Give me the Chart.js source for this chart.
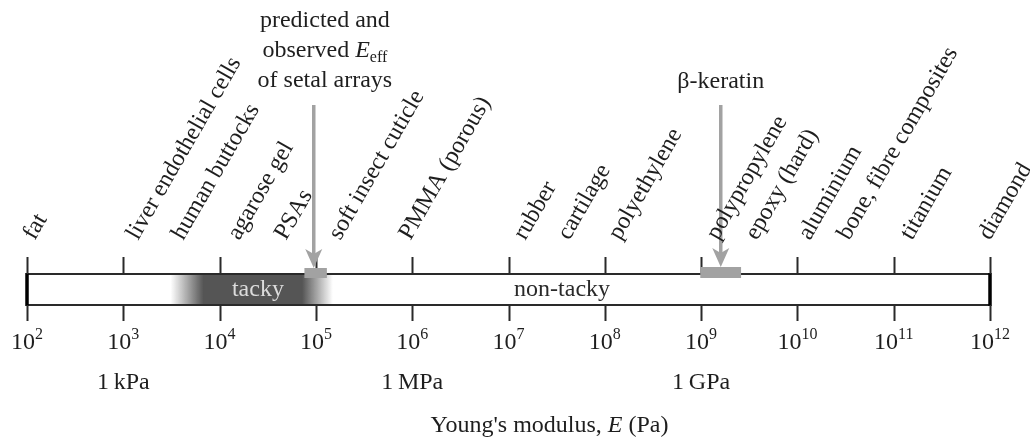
<!DOCTYPE html>
<html>
<head>
<meta charset="utf-8">
<script src="https://cdn.jsdelivr.net/npm/chart.js@4"></script>
<style>
  body { margin: 0; background: #fff; }
  #wrap { width: 1030px; height: 439px; position: relative; }
</style>
</head>
<body>
<div id="wrap"><canvas id="chart"></canvas></div>
<script>
// DATA
const materials = ["fat", "liver endothelial cells", "human buttocks", "agarose gel", "PSAs",
  "soft insect cuticle", "PMMA (porous)", "rubber", "cartilage", "polyethylene",
  "polypropylene", "epoxy (hard)", "aluminium", "bone, fibre composites", "titanium", "diamond"];
const moduli = [1.2e2, 1.42e3, 4.2e3, 1.6e4, 4.9e4, 1.79e5, 9.6e5, 1.49e7, 4.27e7, 1.44e8,
  1.5e9, 3.8e9, 1.35e10, 3.44e10, 1.55e11, 1e12];

const tickValues = [1e2, 1e3, 1e4, 1e5, 1e6, 1e7, 1e8, 1e9, 1e10, 1e11, 1e12];
const tickExponents = ["2", "3", "4", "5", "6", "7", "8", "9", "10", "11", "12"];

const unitLabels = ["1\u2009kPa", "1\u2009MPa", "1\u2009GPa"];
const unitValues = [1e3, 1e6, 1e9];

// tacky zone: fade-in start, solid start, solid end, fade-out end
const tackyZone = [3.1e3, 6.8e3, 7.2e4, 1.5e5];
const tackyLabelAt = 2.5e4;
const nonTackyLabelAt = 3.6e7;

const setalRange = [7.6e4, 1.3e5];
const setalArrowAt = 9.5e4;
const setalText = ["predicted and", "observed ", "of setal arrays"];

const keratinRange = [9.8e8, 2.6e9];
const keratinArrowAt = 1.6e9;
const keratinText = "\u03b2-keratin";

const FONT = "'Liberation Serif', 'Times New Roman', serif";
const INK = "#1e1e1e";
const GREY = "#a2a2a2";

function arrow(ctx, x, y0, y1) {
  ctx.strokeStyle = GREY;
  ctx.fillStyle = GREY;
  ctx.lineWidth = 3.5;
  ctx.beginPath();
  ctx.moveTo(x, y0);
  ctx.lineTo(x, y1 - 12);
  ctx.stroke();
  ctx.beginPath();
  ctx.moveTo(x - 8.5, y1 - 19);
  ctx.lineTo(x, y1 - 14);
  ctx.lineTo(x + 8.5, y1 - 19);
  ctx.lineTo(x, y1);
  ctx.closePath();
  ctx.fill();
}

const figurePlugin = {
  id: "figure",
  afterDraw(chart) {
    const ctx = chart.ctx;
    const xs = chart.scales.x;
    const ys = chart.scales.y;
    const top = ys.getPixelForValue(1);
    const bot = ys.getPixelForValue(0);
    const left = xs.getPixelForValue(tickValues[0]);
    const right = xs.getPixelForValue(tickValues[tickValues.length - 1]);
    ctx.save();

    // tacky gradient
    const t0 = xs.getPixelForValue(tackyZone[0]);
    const t1 = xs.getPixelForValue(tackyZone[1]);
    const t2 = xs.getPixelForValue(tackyZone[2]);
    const t3 = xs.getPixelForValue(tackyZone[3]);
    const g = ctx.createLinearGradient(t0, 0, t3, 0);
    const span = t3 - t0;
    g.addColorStop(0, "rgba(85,85,85,0)");
    g.addColorStop((t1 - t0) / span, "rgba(85,85,85,1)");
    g.addColorStop((t2 - t0) / span, "rgba(85,85,85,1)");
    g.addColorStop(1, "rgba(85,85,85,0)");
    ctx.fillStyle = g;
    ctx.fillRect(t0, top, span, bot - top);

    // bar outline
    ctx.strokeStyle = "#2a2a2a";
    ctx.lineWidth = 2;
    ctx.beginPath();
    ctx.moveTo(left, top); ctx.lineTo(right, top);
    ctx.moveTo(left, bot); ctx.lineTo(right, bot);
    ctx.stroke();
    ctx.lineWidth = 3.5;
    ctx.strokeStyle = "#000";
    ctx.beginPath();
    ctx.moveTo(left, top - 1); ctx.lineTo(left, bot + 1);
    ctx.moveTo(right, top - 1); ctx.lineTo(right, bot + 1);
    ctx.stroke();

    // decade ticks above and below
    ctx.strokeStyle = "#2a2a2a";
    ctx.lineWidth = 2;
    ctx.beginPath();
    tickValues.forEach(v => {
      const x = Math.round(xs.getPixelForValue(v)) + 0.5;
      ctx.moveTo(x, top - 17); ctx.lineTo(x, top);
      ctx.moveTo(x, bot); ctx.lineTo(x, bot + 16);
    });
    ctx.stroke();

    // tick labels 10^n
    ctx.fillStyle = INK;
    ctx.textBaseline = "alphabetic";
    ctx.textAlign = "left";
    tickValues.forEach((v, i) => {
      const x = xs.getPixelForValue(v);
      ctx.font = "24px " + FONT;
      const w1 = ctx.measureText("10").width;
      ctx.font = "16px " + FONT;
      const w2 = ctx.measureText(tickExponents[i]).width;
      const sx = x - (w1 + w2) / 2;
      ctx.font = "24px " + FONT;
      ctx.fillText("10", sx, bot + 44);
      ctx.font = "16px " + FONT;
      ctx.fillText(tickExponents[i], sx + w1, bot + 34);
    });

    // unit labels
    ctx.font = "24px " + FONT;
    ctx.textAlign = "center";
    unitValues.forEach((v, i) => {
      ctx.fillText(unitLabels[i], xs.getPixelForValue(v), bot + 84);
    });

    // axis title
    const parts = [["Young's modulus, ", ""], ["E", "italic "], [" (Pa)", ""]];
    let tw = 0;
    parts.forEach(p => { ctx.font = p[1] + "24px " + FONT; tw += ctx.measureText(p[0]).width; });
    let ax = (left + right) / 2 + 41 - tw / 2;
    ctx.textAlign = "left";
    parts.forEach(p => {
      ctx.font = p[1] + "24px " + FONT;
      ctx.fillText(p[0], ax, bot + 127);
      ax += ctx.measureText(p[0]).width;
    });

    // region labels
    ctx.font = "24px " + FONT;
    ctx.textAlign = "center";
    ctx.fillStyle = "#dcdcdc";
    ctx.fillText("tacky", xs.getPixelForValue(tackyLabelAt), bot - 9);
    ctx.fillStyle = "#2a2a2a";
    ctx.fillText("non-tacky", xs.getPixelForValue(nonTackyLabelAt), bot - 9);

    // setal and keratin ranges
    ctx.fillStyle = GREY;
    const s0 = xs.getPixelForValue(setalRange[0]);
    const s1 = xs.getPixelForValue(setalRange[1]);
    ctx.fillRect(s0, top - 6, s1 - s0, 10);
    const k0 = xs.getPixelForValue(keratinRange[0]);
    const k1 = xs.getPixelForValue(keratinRange[1]);
    ctx.fillRect(k0, top - 7, k1 - k0, 11);

    arrow(ctx, xs.getPixelForValue(setalArrowAt), 105, top - 6);
    arrow(ctx, xs.getPixelForValue(keratinArrowAt), 105, top - 7);

    // annotation text
    ctx.fillStyle = INK;
    ctx.textAlign = "center";
    ctx.font = "24px " + FONT;
    const sx = xs.getPixelForValue(1e5) + 9;
    ctx.fillText(setalText[0], sx, 27);
    ctx.fillText(setalText[2], sx, 87);
    // "observed E_eff"
    ctx.font = "24px " + FONT;
    const wa = ctx.measureText(setalText[1]).width;
    ctx.font = "italic 24px " + FONT;
    const wb = ctx.measureText("E").width;
    ctx.font = "16px " + FONT;
    const wc = ctx.measureText("eff").width;
    let ox = sx - (wa + wb + wc) / 2;
    ctx.textAlign = "left";
    ctx.font = "24px " + FONT;
    ctx.fillText(setalText[1], ox, 57);
    ox += wa;
    ctx.font = "italic 24px " + FONT;
    ctx.fillText("E", ox, 57);
    ox += wb;
    ctx.font = "16px " + FONT;
    ctx.fillText("eff", ox, 62);

    ctx.textAlign = "center";
    ctx.font = "24px " + FONT;
    ctx.fillText(keratinText, xs.getPixelForValue(keratinArrowAt), 88);

    // rotated material labels
    ctx.font = "24px " + FONT;
    ctx.textAlign = "left";
    ctx.textBaseline = "alphabetic";
    materials.forEach((m, i) => {
      const x = xs.getPixelForValue(moduli[i]);
      ctx.save();
      ctx.translate(x, 241);
      ctx.rotate(-Math.PI / 3);
      ctx.fillText(m, 0, 0);
      ctx.restore();
    });

    ctx.restore();
  }
};

new Chart(document.getElementById("chart"), {
  type: "scatter",
  data: { datasets: [{ data: [] }] },
  options: {
    responsive: true,
    maintainAspectRatio: false,
    animation: false,
    layout: { padding: { left: 27, right: 40, top: 274, bottom: 134 } },
    plugins: { legend: { display: false }, tooltip: { enabled: false } },
    scales: {
      x: { type: "logarithmic", min: 1e2, max: 1e12, display: false },
      y: { type: "linear", min: 0, max: 1, display: false }
    }
  },
  plugins: [figurePlugin]
});
</script>
</body>
</html>
